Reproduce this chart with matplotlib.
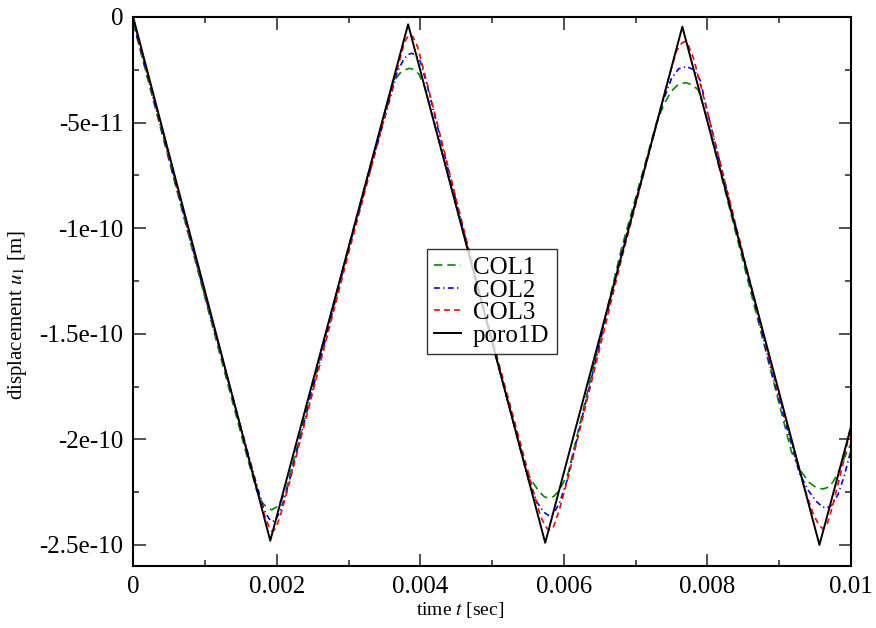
import numpy as np
import matplotlib
matplotlib.use('Agg')
import matplotlib.pyplot as plt
from matplotlib.ticker import MultipleLocator, FixedLocator, FixedFormatter

plt.rcParams['font.family'] = ['Liberation Serif', 'DejaVu Serif']
plt.rcParams['mathtext.fontset'] = 'stix'

# time [s] and displacement [1e-10 m]
t_poro = [0, 0.00191, 0.00383, 0.00574, 0.00765, 0.00956, 0.01]
u_poro = [0, -2.48, -0.035, -2.49, -0.046, -2.50, -1.94]

t_col1 = [0, 0.0010, 0.0016, 0.00172, 0.00180, 0.00187, 0.00193, 0.00200, 0.00207, 0.00213,
          0.0030, 0.00362, 0.00372, 0.00379, 0.00385, 0.00391, 0.00398, 0.00406,
          0.0048, 0.00547, 0.00556, 0.00565, 0.00572, 0.00578, 0.00586, 0.00594, 0.00606,
          0.0068, 0.00729, 0.00740, 0.00750, 0.00760, 0.00770, 0.00779, 0.00787, 0.00796,
          0.0089, 0.00917, 0.00930, 0.00942, 0.00952, 0.00961, 0.00970, 0.00977, 0.00983, 0.00989, 0.01]
u_col1 = [-0.03, -1.33, -2.10, -2.24, -2.30, -2.325, -2.334, -2.32, -2.285, -2.24,
          -1.09, -0.31, -0.265, -0.25, -0.243, -0.25, -0.27, -0.33,
          -1.28, -2.145, -2.20, -2.245, -2.27, -2.279, -2.27, -2.24, -2.16,
          -1.10, -0.50, -0.41, -0.35, -0.318, -0.311, -0.322, -0.345, -0.44,
          -1.70, -2.06, -2.15, -2.205, -2.23, -2.235, -2.225, -2.19, -2.15, -2.10, -2.02]

t_col2 = [0, 0.0010, 0.0017, 0.00182, 0.00189, 0.00194, 0.00199, 0.00206, 0.00215,
          0.0030, 0.00368, 0.00377, 0.00383, 0.00388, 0.00393, 0.00400, 0.0041,
          0.0048, 0.00553, 0.00563, 0.00572, 0.00579, 0.00586, 0.00594, 0.00604,
          0.0068, 0.00738, 0.00750, 0.00760, 0.00771, 0.00781, 0.00790, 0.0080,
          0.0089, 0.00928, 0.00940, 0.00952, 0.00960, 0.00966, 0.00974, 0.00982, 0.0099, 0.01]
u_col2 = [-0.02, -1.32, -2.19, -2.33, -2.375, -2.39, -2.38, -2.33, -2.23,
          -1.10, -0.26, -0.20, -0.178, -0.172, -0.18, -0.21, -0.33,
          -1.28, -2.22, -2.30, -2.345, -2.361, -2.35, -2.30, -2.20,
          -1.12, -0.40, -0.29, -0.245, -0.235, -0.25, -0.30, -0.45,
          -1.69, -2.16, -2.24, -2.295, -2.32, -2.326, -2.31, -2.26, -2.18, -2.05]

t_col3 = [0, 0.0010, 0.0017, 0.00183, 0.00190, 0.00194, 0.00199, 0.00206, 0.00215,
          0.0030, 0.00370, 0.00378, 0.00383, 0.00386, 0.00390, 0.00396, 0.0041,
          0.0048, 0.00557, 0.00568, 0.00576, 0.00580, 0.00585, 0.00594, 0.00606,
          0.0068, 0.00745, 0.00757, 0.00764, 0.00768, 0.00773, 0.00781, 0.0080,
          0.0089, 0.00935, 0.00948, 0.00956, 0.00961, 0.00966, 0.00974, 0.0099, 0.01]
u_col3 = [-0.01, -1.31, -2.20, -2.36, -2.42, -2.437, -2.42, -2.35, -2.24,
          -1.12, -0.22, -0.12, -0.09, -0.085, -0.095, -0.14, -0.32,
          -1.27, -2.24, -2.37, -2.42, -2.43, -2.42, -2.33, -2.18,
          -1.15, -0.30, -0.16, -0.125, -0.117, -0.13, -0.20, -0.45,
          -1.67, -2.23, -2.36, -2.41, -2.424, -2.41, -2.32, -2.10, -1.93]

x_ticks = [0, 0.002, 0.004, 0.006, 0.008, 0.01]
x_labels = ['0', '0.002', '0.004', '0.006', '0.008', '0.01']
y_ticks = [0, -0.5e-10, -1e-10, -1.5e-10, -2e-10, -2.5e-10]
y_labels = ['0', '-5e-11', '-1e-10', '-1.5e-10', '-2e-10', '-2.5e-10']

scale = 1e-10

fig = plt.figure(figsize=(8.76, 6.28), dpi=100)
ax = fig.add_axes([0.152, 0.0987, 0.8195, 0.8743])

ax.plot(t_col1, np.array(u_col1) * scale, color='#008b00', lw=1.2, dashes=(5, 3), label='COL1')
ax.plot(t_col2, np.array(u_col2) * scale, color='#0000ff', lw=1.2, dashes=(3.5, 2, 0.8, 2), label='COL2')
ax.plot(t_col3, np.array(u_col3) * scale, color='#ff0000', lw=1.2, dashes=(3.5, 2.5), label='COL3')
ax.plot(t_poro, np.array(u_poro) * scale, color='black', lw=1.4, label='poro1D')

ax.set_xlim(0, 0.01)
ax.set_ylim(-2.6e-10, 0)

ax.xaxis.set_major_locator(FixedLocator(x_ticks))
ax.xaxis.set_major_formatter(FixedFormatter(x_labels))
ax.xaxis.set_minor_locator(MultipleLocator(0.001))
ax.yaxis.set_major_locator(FixedLocator(y_ticks))
ax.yaxis.set_major_formatter(FixedFormatter(y_labels))
ax.yaxis.set_minor_locator(MultipleLocator(0.25e-10))

ax.tick_params(which='both', direction='in', top=True, right=True, labelsize=18, color='#333333')
ax.tick_params(which='major', length=9, width=1.2, pad=7)
ax.tick_params(which='minor', length=4.5, width=1.2)
for s in ax.spines.values():
    s.set_linewidth(1.5)

ax.set_xlabel('time $t$ [sec]', fontsize=14)
ax.set_ylabel('displacement $u_1$ [m]', fontsize=15)
ax.xaxis.set_label_coords(0.455, -0.062)
ax.yaxis.set_label_coords(-0.145, 0.457)

leg = ax.legend(loc='lower left', bbox_to_anchor=(0.409, 0.386), borderaxespad=0,
                fontsize=18, frameon=True, fancybox=False, edgecolor='black',
                labelspacing=0.0, borderpad=0.3, handlelength=1.05, handletextpad=0.5)
leg.get_frame().set_linewidth(1.0)

plt.savefig('out.png', dpi=100)
